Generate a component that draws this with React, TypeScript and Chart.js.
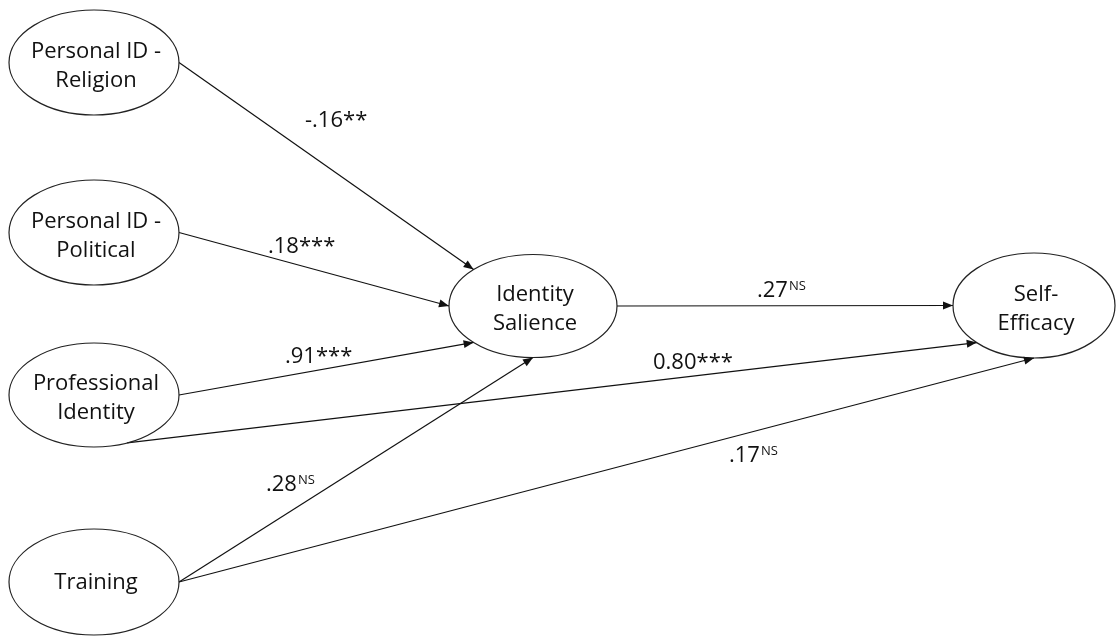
import React, { useEffect, useRef } from "react";
import { Chart, registerables } from "chart.js";

Chart.register(...registerables);

// ---------- data ----------
const nodeNames: string[][] = [
  ["Personal ID -", "Religion"],
  ["Personal ID -", "Political"],
  ["Professional", "Identity"],
  ["Training"],
  ["Identity", "Salience"],
  ["Self-", "Efficacy"],
];
const edgeFrom = [0, 1, 2, 2, 3, 3, 4];
const edgeTo = [4, 4, 4, 5, 4, 5, 5];
const edgeCoef = ["-.16", ".18", ".91", "0.80", ".28", ".17", ".27"];
const edgeSig = ["**", "***", "***", "***", "NS", "NS", "NS"];

// ---------- layout (diagram space = pixel space of the 1117x640 view) ----------
const VIEW_W = 1117;
const VIEW_H = 640;
const NODE_X = [94, 94, 94, 94, 533, 1034];
const NODE_Y = [62.5, 232.5, 395, 582, 306, 305.5];
const NODE_RX = [85, 85, 85, 85, 84, 81];
const NODE_RY = [52.5, 52.5, 52, 53, 51.5, 52.5];
const EDGE_START_ANGLE = [0, 0, 0, 67, 0, 0, 0];
const EDGE_END_ANGLE = [225, 180, 135, 135, 90, 90, 180];
const LABEL_X = [305, 268, 285, 653, 266, 729, 757];
const LABEL_Y = [119, 245, 355, 361, 483, 454, 289];

const FONT = "'Open Sans', 'Noto Sans', sans-serif";
const INK = "#111111";

function anchor(node: number, angleDeg: number) {
  const a = (angleDeg * Math.PI) / 180;
  return {
    x: NODE_X[node] + NODE_RX[node] * Math.cos(a),
    y: NODE_Y[node] + NODE_RY[node] * Math.sin(a),
  };
}

const diagramPlugin = {
  id: "pathDiagram",
  afterDatasetsDraw(chart: any) {
    const ctx: CanvasRenderingContext2D = chart.ctx;
    const xs = chart.scales.x;
    const ys = chart.scales.y;
    const px = (v: number) => xs.getPixelForValue(v);
    const py = (v: number) => ys.getPixelForValue(v);
    ctx.save();

    // ellipses + node text
    nodeNames.forEach((lines, i) => {
      const cx = px(NODE_X[i]);
      const cy = py(NODE_Y[i]);
      const rx = Math.abs(px(NODE_X[i] + NODE_RX[i]) - cx);
      const ry = Math.abs(py(NODE_Y[i] + NODE_RY[i]) - cy);
      ctx.beginPath();
      ctx.ellipse(cx, cy, rx, ry, 0, 0, Math.PI * 2);
      ctx.lineWidth = 1.2;
      ctx.strokeStyle = "#222222";
      ctx.stroke();
      ctx.fillStyle = INK;
      ctx.font = `22px ${FONT}`;
      ctx.textAlign = "center";
      ctx.textBaseline = "alphabetic";
      if (lines.length === 1) {
        ctx.fillText(lines[0], cx + 2, cy + 7);
      } else {
        ctx.fillText(lines[0], cx + 2, cy - 5);
        ctx.fillText(lines[1], cx + 2, cy + 24);
      }
    });

    // arrowheads
    edgeFrom.forEach((f, i) => {
      const s = anchor(f, EDGE_START_ANGLE[i]);
      const e = anchor(edgeTo[i], EDGE_END_ANGLE[i]);
      const sx = px(s.x), sy = py(s.y), ex = px(e.x), ey = py(e.y);
      const ang = Math.atan2(ey - sy, ex - sx);
      const len = 10, hw = 4;
      ctx.beginPath();
      ctx.moveTo(ex, ey);
      ctx.lineTo(ex - len * Math.cos(ang) + hw * Math.sin(ang), ey - len * Math.sin(ang) - hw * Math.cos(ang));
      ctx.lineTo(ex - len * Math.cos(ang) - hw * Math.sin(ang), ey - len * Math.sin(ang) + hw * Math.cos(ang));
      ctx.closePath();
      ctx.fillStyle = INK;
      ctx.fill();
    });

    // coefficient labels
    edgeCoef.forEach((c, i) => {
      const x = px(LABEL_X[i]);
      const y = py(LABEL_Y[i]);
      ctx.fillStyle = INK;
      ctx.textAlign = "left";
      ctx.textBaseline = "alphabetic";
      ctx.font = `22px ${FONT}`;
      const sig = edgeSig[i];
      if (sig === "NS") {
        ctx.fillText(c, x, y + 8);
        const w = ctx.measureText(c).width;
        ctx.font = `13px ${FONT}`;
        ctx.fillText(sig, x + w + 1, y + 1);
      } else {
        ctx.fillText(c + sig, x, y + 8);
      }
    });

    ctx.restore();
  },
};

export default function App() {
  const ref = useRef<HTMLCanvasElement | null>(null);

  useEffect(() => {
    if (!ref.current) return;
    const edgeDatasets = edgeFrom.map((f, i) => {
      const s = anchor(f, EDGE_START_ANGLE[i]);
      const e = anchor(edgeTo[i], EDGE_END_ANGLE[i]);
      return {
        label: `${nodeNames[f].join(" ")} → ${nodeNames[edgeTo[i]].join(" ")}`,
        data: [s, e],
        showLine: true,
        borderColor: INK,
        borderWidth: 1.2,
        pointRadius: 0,
        fill: false,
      };
    });
    const nodeDataset = {
      label: "nodes",
      data: NODE_X.map((x, i) => ({ x, y: NODE_Y[i] })),
      pointRadius: 0,
      showLine: false,
    };
    const chart = new Chart(ref.current, {
      type: "scatter",
      data: { datasets: [nodeDataset, ...edgeDatasets] as any },
      options: {
        animation: false,
        responsive: false,
        maintainAspectRatio: false,
        devicePixelRatio: 1,
        events: [],
        layout: { padding: 0 },
        plugins: {
          legend: { display: false },
          tooltip: { enabled: false },
          title: { display: false },
        },
        scales: {
          x: { type: "linear", min: 0, max: VIEW_W, display: false },
          y: { type: "linear", min: 0, max: VIEW_H, reverse: true, display: false },
        },
      } as any,
      plugins: [diagramPlugin],
    });
    return () => chart.destroy();
  }, []);

  return (
    <div
      style={{
        position: "absolute",
        left: 0,
        top: 0,
        width: VIEW_W,
        height: VIEW_H,
        background: "#ffffff",
      }}
    >
      <canvas ref={ref} width={VIEW_W} height={VIEW_H} style={{ display: "block" }} />
    </div>
  );
}
